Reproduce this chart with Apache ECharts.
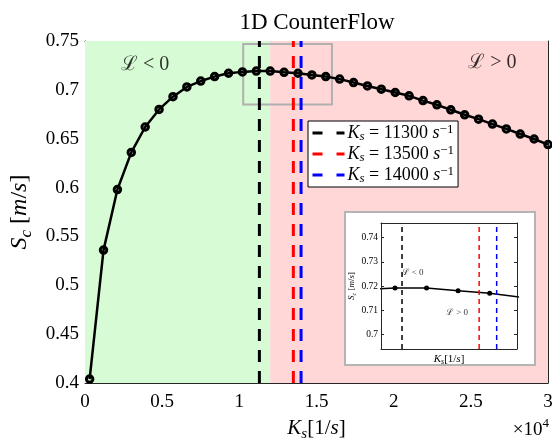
<!DOCTYPE html>
<html>
<head>
<meta charset="utf-8">
<script src="https://cdn.jsdelivr.net/npm/echarts@6/dist/echarts.min.js"></script>
<style>
html, body { margin: 0; padding: 0; background: #fff; }
#chart { width: 552px; height: 441px; }
</style>
</head>
<body>
<div id="chart"></div>
<script>
// strain rate Ks [1/s] vs consumption speed Sc [m/s]
const ksVals = [300, 1200, 2100, 3000, 3900, 4800, 5700, 6600, 7500, 8400, 9300, 10200,
    11100, 12000, 12900, 13800, 14700, 15600, 16500, 17400, 18300, 19200, 20100, 21000,
    21900, 22800, 23700, 24600, 25500, 26400, 27300, 28200, 29100, 30000];
const scVals = [0.404, 0.536, 0.598, 0.636, 0.662, 0.680, 0.693, 0.703, 0.709, 0.7136, 0.717, 0.7184,
    0.7192, 0.7192, 0.718, 0.717, 0.7153, 0.7136, 0.711, 0.7075, 0.704, 0.7007, 0.6973, 0.6939,
    0.689, 0.6847, 0.6796, 0.6745, 0.670, 0.665, 0.660, 0.6548, 0.6497, 0.644];
const ksMarks = [11300, 13500, 14000];
const lewisSplit = 12000;                 // L<0 on the left, L>0 on the right
const zoomBox = [10250, 16000, 0.685, 0.747];
const xTicks = [0, 5000, 10000, 15000, 20000, 25000, 30000];
const yTicks = [0.4, 0.45, 0.5, 0.55, 0.6, 0.65, 0.7, 0.75];
const insetX = [10700, 14580];
const insetY = [0.694, 0.746];
const insetYTicks = [0.7, 0.71, 0.72, 0.73, 0.74];

// label anchors (data coords)
const mainNotes = [[3900, 0.7255, 'ℒ < 0'], [26400, 0.7277, 'ℒ > 0']];
const insetNotes = [[11600, 0.7255, 'ℒ < 0'], [12870, 0.7092, 'ℒ > 0']];

const markColors = ['#000000', '#ff0000', '#0000ff'];
const SERIF = "'Liberation Serif', 'DejaVu Serif', serif";
const GREEN = '#d7fbd4';
const RED = '#ffd7d7';
const AXIS = '#262626';

function mathRich(size, lhFactor) {
    const lh = Math.round(size * (lhFactor || 1.3));
    const small = Math.round(size * 0.7);
    return {
        r: { fontFamily: SERIF, fontSize: size, lineHeight: lh, color: '#000' },
        i: { fontFamily: SERIF, fontSize: size, fontStyle: 'italic', lineHeight: lh, color: '#000' },
        sub: { fontFamily: SERIF, fontSize: small, fontStyle: 'italic', lineHeight: small, verticalAlign: 'bottom', color: '#000' },
        sup: { fontFamily: SERIF, fontSize: small, lineHeight: small, verticalAlign: 'top', color: '#000' }
    };
}

const curve = ksVals.map((k, i) => [k, scVals[i]]);
const markName = k => 'K' + k;
const fmt2 = v => String(+v.toFixed(3));

const series = [{
    type: 'line',
    name: 'Sc',
    data: curve,
    xAxisIndex: 0, yAxisIndex: 0,
    z: 2,
    symbol: 'circle',
    symbolSize: 6.5,
    lineStyle: { color: '#000', width: 2.5 },
    itemStyle: { color: 'rgba(0,0,0,0)', borderColor: '#000', borderWidth: 3 },
    markArea: {
        silent: true,
        data: [
            [{ xAxis: xTicks[0], itemStyle: { color: GREEN } }, { xAxis: lewisSplit }],
            [{ xAxis: lewisSplit, itemStyle: { color: RED } }, { xAxis: xTicks[xTicks.length - 1] }],
            [{ coord: [zoomBox[0], zoomBox[3]], itemStyle: { color: 'rgba(0,0,0,0)', borderColor: '#b0b0b0', borderWidth: 2 } },
             { coord: [zoomBox[1], zoomBox[2]] }]
        ]
    }
}];

ksMarks.forEach((k, i) => {
    series.push({
        type: 'line',
        name: markName(k),
        data: [[k, yTicks[0]], [k, yTicks[yTicks.length - 1]]],
        xAxisIndex: 0, yAxisIndex: 0,
        z: 3,
        symbol: 'none',
        itemStyle: { color: markColors[i] },
        lineStyle: { color: markColors[i], width: 3, type: [12, 9] }
    });
});

// region labels in the main plot
series.push({
    type: 'scatter',
    xAxisIndex: 0, yAxisIndex: 0,
    symbolSize: 0,
    z: 4,
    data: mainNotes,
    label: {
        show: true, position: 'inside',
        formatter: p => p.data[2],
        fontFamily: SERIF, fontSize: 20, color: '#000'
    }
});

// inset
series.push({
    type: 'line',
    name: 'inset',
    data: curve,
    xAxisIndex: 2, yAxisIndex: 2,
    zlevel: 1, z: 3,
    symbol: 'circle',
    symbolSize: 5,
    lineStyle: { color: '#000', width: 1.5 },
    itemStyle: { color: '#000' },
    markArea: {
        silent: true,
        z: 1,
        data: [
            [{ xAxis: insetX[0], itemStyle: { color: GREEN } }, { xAxis: lewisSplit }],
            [{ xAxis: lewisSplit, itemStyle: { color: RED } }, { xAxis: insetX[1] }]
        ]
    }
});
ksMarks.forEach((k, i) => {
    series.push({
        type: 'line',
        name: 'inset' + k,
        data: [[k, insetY[0]], [k, insetY[1]]],
        xAxisIndex: 2, yAxisIndex: 2,
        zlevel: 1, z: 4,
        symbol: 'none',
        lineStyle: { color: markColors[i], width: 1.5, type: [5, 4] }
    });
});
series.push({
    type: 'scatter',
    xAxisIndex: 2, yAxisIndex: 2,
    zlevel: 1, z: 5,
    symbolSize: 0,
    data: insetNotes,
    label: {
        show: true, position: 'inside',
        formatter: p => p.data[2],
        fontFamily: SERIF, fontSize: 9, color: '#000'
    }
});

function frameAxis(extra) {
    return Object.assign({
        axisLine: { show: true, onZero: false, lineStyle: { color: AXIS, width: 1 } },
        axisTick: { show: true, inside: true, length: 5, lineStyle: { color: AXIS } },
        splitLine: { show: false }
    }, extra);
}

const option = {
    animation: false,
    backgroundColor: '#fff',
    grid: [
        { left: 85, right: 4, top: 41, bottom: 58, containLabel: false, outerBoundsMode: 'none' },
        { left: 381, right: 35, top: 223, bottom: 92, zlevel: 1, containLabel: false, outerBoundsMode: 'none' }
    ],
    xAxis: [
        frameAxis({
            type: 'value', gridIndex: 0, position: 'bottom',
            min: xTicks[0], max: xTicks[xTicks.length - 1], interval: xTicks[1] - xTicks[0],
            axisLabel: { formatter: v => String(v / 1e4), fontFamily: SERIF, fontSize: 19, color: '#000', margin: 10 },
            name: '{i|K}{sub|s}{r|[1/}{i|s}{r|]}',
            nameLocation: 'middle', nameGap: 32,
            nameTextStyle: { rich: mathRich(21) }
        }),
        frameAxis({
            type: 'value', gridIndex: 0, position: 'top',
            min: xTicks[0], max: xTicks[xTicks.length - 1], interval: xTicks[1] - xTicks[0],
            axisLabel: { show: false }
        }),
        frameAxis({
            type: 'value', gridIndex: 1, position: 'bottom', zlevel: 1, z: 6,
            min: insetX[0], max: insetX[1],
            axisTick: { show: false }, axisLabel: { show: false },
            name: '{i|K}{sub|s}{r|[1/}{i|s}{r|]}',
            nameLocation: 'middle', nameGap: 3,
            nameTextStyle: { rich: mathRich(11) }
        }),
        frameAxis({
            type: 'value', gridIndex: 1, position: 'top', zlevel: 1, z: 6,
            min: insetX[0], max: insetX[1],
            axisTick: { show: false }, axisLabel: { show: false }
        })
    ],
    yAxis: [
        frameAxis({
            type: 'value', gridIndex: 0, position: 'left',
            min: yTicks[0], max: yTicks[yTicks.length - 1], interval: yTicks[1] - yTicks[0],
            axisLabel: { formatter: fmt2, fontFamily: SERIF, fontSize: 19, color: '#000', margin: 6 },
            name: '{i|S}{sub|c}{r| [}{i|m}{r|/}{i|s}{r|]}',
            nameLocation: 'middle', nameGap: 47, nameRotate: 90,
            nameTextStyle: { rich: mathRich(24) }
        }),
        frameAxis({
            type: 'value', gridIndex: 0, position: 'right',
            min: yTicks[0], max: yTicks[yTicks.length - 1], interval: yTicks[1] - yTicks[0],
            axisLabel: { show: false }
        }),
        frameAxis({
            type: 'value', gridIndex: 1, position: 'left', zlevel: 1, z: 6,
            min: insetY[0], max: insetY[1],
            axisTick: { show: true, inside: true, length: 3, customValues: insetYTicks, lineStyle: { color: AXIS } },
            axisLabel: { customValues: insetYTicks, formatter: fmt2, fontFamily: SERIF, fontSize: 9.5, color: '#000', margin: 3 },
            name: '{i|S}{sub|c}{r| [}{i|m}{r|/}{i|s}{r|]}',
            nameLocation: 'middle', nameGap: 20, nameRotate: 90,
            nameTextStyle: { rich: mathRich(9) }
        }),
        frameAxis({
            type: 'value', gridIndex: 1, position: 'right', zlevel: 1, z: 6,
            min: insetY[0], max: insetY[1],
            axisTick: { show: true, inside: true, length: 3, customValues: insetYTicks, lineStyle: { color: AXIS } },
            axisLabel: { show: false }
        })
    ],
    legend: {
        data: ksMarks.map(markName),
        orient: 'vertical',
        left: 308, top: 121,
        padding: [2, 4, 2, 3],
        itemGap: 1,
        itemWidth: 32, itemHeight: 12,
        backgroundColor: '#fff',
        borderColor: '#000', borderWidth: 1, borderRadius: 0,
        selectedMode: false,
        itemStyle: { opacity: 0 },
        lineStyle: { width: 3, type: [10, 14] },
        formatter: name => '{i|K}{sub|s}{r| = ' + name.slice(1) + ' }{i|s}{sup|−1}',
        textStyle: { rich: mathRich(18, 1.12), padding: [0, 0, 0, -2] }
    },
    graphic: [
        { type: 'text', style: { text: '1D CounterFlow', x: 317, y: 23, textAlign: 'center', textVerticalAlign: 'middle',
            fontFamily: SERIF, fontSize: 23, fill: '#000' } },
        { type: 'text', style: { text: '{r|×10}{sup|4}', x: 549, y: 430, textAlign: 'right', textVerticalAlign: 'middle',
            rich: mathRich(19) } },
        { type: 'rect', zlevel: 1, z: 0, shape: { x: 345, y: 212, width: 190, height: 153 },
            style: { fill: '#fff', stroke: '#b4b4b4', lineWidth: 2 } }
    ],
    series: series
};

const chart = echarts.init(document.getElementById('chart'), null, { renderer: 'canvas' });
chart.setOption(option);
</script>
</body>
</html>
